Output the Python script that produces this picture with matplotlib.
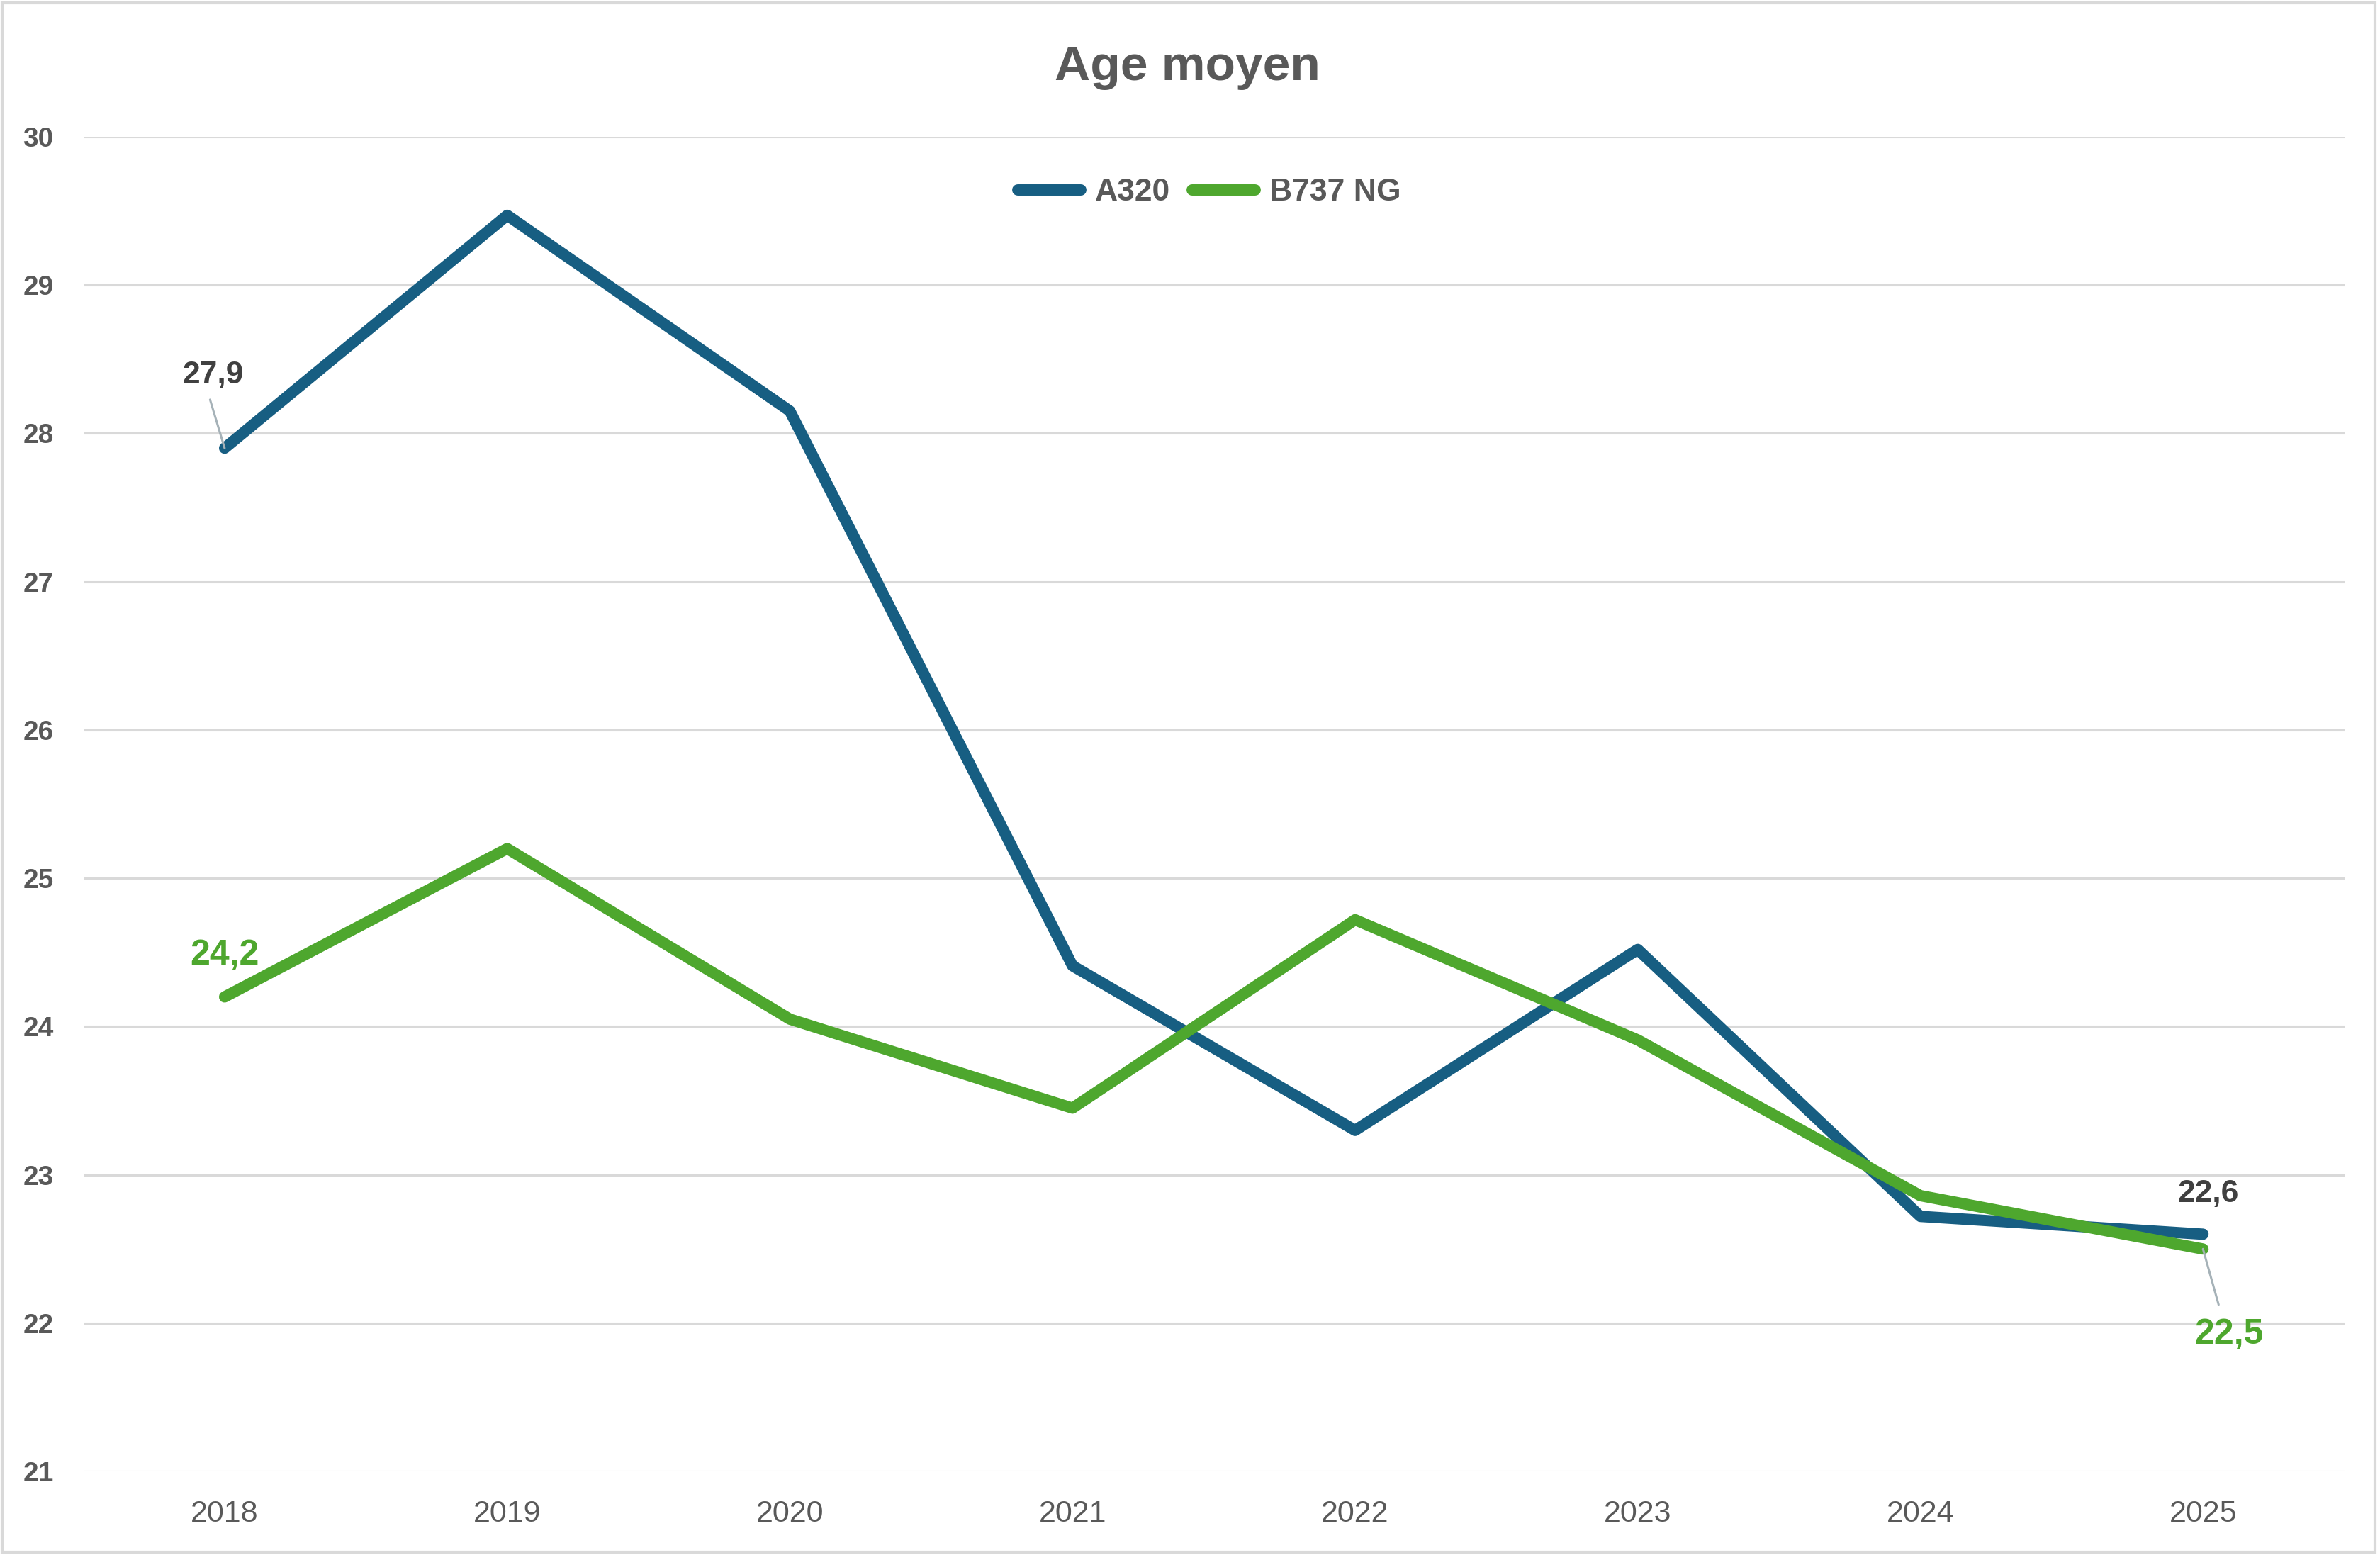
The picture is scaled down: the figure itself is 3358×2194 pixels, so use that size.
import matplotlib
matplotlib.use("Agg")
import matplotlib.pyplot as plt
from matplotlib.patches import Rectangle

# chart data
years = ["2018", "2019", "2020", "2021", "2022", "2023", "2024", "2025"]
a320 = [27.9, 29.47, 28.15, 24.41, 23.30, 24.52, 22.72, 22.6]
b737 = [24.2, 25.20, 24.05, 23.45, 24.72, 23.91, 22.86, 22.5]
y_ticks = [21, 22, 23, 24, 25, 26, 27, 28, 29, 30]

BLUE = "#175E82"
GREEN = "#4EA72E"
GREY_TXT = "#595959"
DARK_TXT = "#404040"
GRID = "#D9D9D9"

font = ["Liberation Sans", "DejaVu Sans"]
plt.rcParams["font.family"] = font

fig = plt.figure(figsize=(33.58, 21.94), dpi=100)
ax = fig.add_axes([0.035, 0.0537, 0.950, 0.8584])

x = list(range(len(years)))
ax.plot(x, a320, color=BLUE, linewidth=11.5, solid_capstyle="round",
        solid_joinstyle="round", label="A320", zorder=3)
ax.plot(x, b737, color=GREEN, linewidth=11.5, solid_capstyle="round",
        solid_joinstyle="round", label="B737 NG", zorder=3)

ax.set_xlim(-0.5, len(years) - 0.5)
ax.set_ylim(21, 30)
ax.set_yticks(y_ticks)
ax.set_xticks(x)
ax.set_xticklabels(years)
for lab in ax.get_yticklabels():
    lab.set_fontweight("bold")
    lab.set_fontsize(28)
    lab.set_color(GREY_TXT)
for lab in ax.get_xticklabels():
    lab.set_fontsize(31)
    lab.set_color(GREY_TXT)
ax.tick_params(axis="y", length=0, pad=30)
ax.tick_params(axis="x", length=0, pad=29)

ax.grid(axis="y", color=GRID, linewidth=2.2, zorder=0)
ax.grid(axis="x", visible=False)
for s in ax.spines.values():
    s.set_visible(False)

# data labels (first and last point of each series)
leader = dict(arrowstyle="-", color="#A6B2B8", linewidth=2.2, shrinkB=0)
ax.annotate(f"{a320[0]:.1f}".replace(".", ","), xy=(x[0], a320[0]),
            xytext=(x[0] - 0.04, a320[0] + 0.434), ha="center", va="baseline",
            fontsize=32, fontweight="bold", color=DARK_TXT,
            arrowprops=dict(leader, relpos=(0.4, 0.0), shrinkA=8), zorder=4)
ax.annotate(f"{b737[0]:.1f}".replace(".", ","), xy=(x[0], b737[0]),
            xytext=(x[0], b737[0] + 0.216), ha="center", va="baseline",
            fontsize=36, fontweight="bold", color=GREEN, zorder=4)
ax.annotate(f"{a320[-1]:.1f}".replace(".", ","), xy=(x[-1], a320[-1]),
            xytext=(x[-1] + 0.018, a320[-1] + 0.216), ha="center", va="baseline",
            fontsize=32, fontweight="bold", color=DARK_TXT, zorder=4)
ax.annotate(f"{b737[-1]:.1f}".replace(".", ","), xy=(x[-1], b737[-1]),
            xytext=(x[-1] + 0.093, b737[-1] - 0.637), ha="center", va="baseline",
            fontsize=36, fontweight="bold", color=GREEN,
            arrowprops=dict(leader, relpos=(0.4, 1.0), shrinkA=12), zorder=4)

leg = ax.legend(loc="center", bbox_to_anchor=(0.498, 0.958), ncol=2, frameon=False,
                handlelength=2.0, columnspacing=0.7, handletextpad=0.44,
                prop={"family": font, "weight": "bold", "size": 32})
for t in leg.get_texts():
    t.set_color(GREY_TXT)
for h in leg.get_lines():
    h.set_solid_capstyle("round")

fig.text(0.499, 0.9486, "Age moyen", ha="center", va="baseline", fontsize=50,
         fontweight="bold", color=GREY_TXT)

# light border around the whole chart area
fig.patches.append(Rectangle((0.001, 0.002), 0.997, 0.996, transform=fig.transFigure,
                             fill=False, edgecolor=GRID, linewidth=3))

fig.savefig("out.png", dpi=100, facecolor="white")
